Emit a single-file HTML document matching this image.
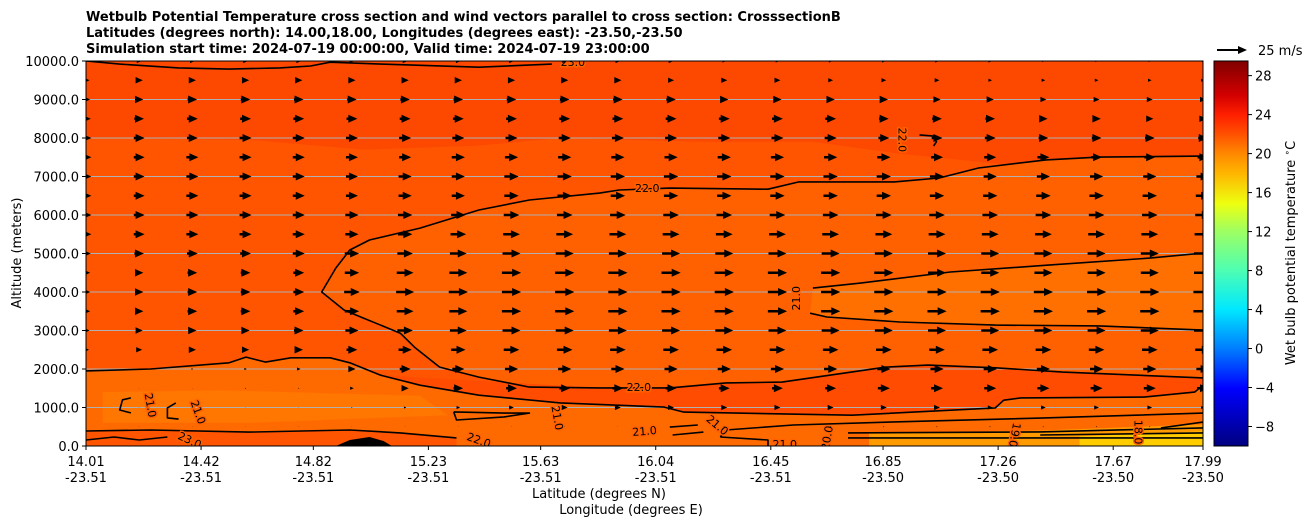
<!DOCTYPE html>
<html><head><meta charset="utf-8"><style>
html,body{margin:0;padding:0;background:#fff;}
svg{display:block;font-family:"DejaVu Sans","Liberation Sans",sans-serif;}
</style></head><body>
<svg id="chart" width="1311" height="526" viewBox="0 0 1311 526" xmlns="http://www.w3.org/2000/svg">
<defs>
<clipPath id="plotClip"><rect x="86" y="61" width="1117" height="385"/></clipPath>
<linearGradient id="cmap" x1="0" y1="0" x2="0" y2="1">
<stop offset="0" stop-color="#800000"/><stop offset="0.09" stop-color="#d40000"/>
<stop offset="0.14" stop-color="#ff2000"/><stop offset="0.19" stop-color="#ff5000"/>
<stop offset="0.24" stop-color="#ff8800"/><stop offset="0.29" stop-color="#ffb400"/>
<stop offset="0.37" stop-color="#eeff10"/><stop offset="0.44" stop-color="#a0ff60"/>
<stop offset="0.54" stop-color="#50ffb0"/><stop offset="0.645" stop-color="#00e8ff"/>
<stop offset="0.745" stop-color="#0080ff"/><stop offset="0.85" stop-color="#0000ff"/>
<stop offset="1" stop-color="#000080"/>
</linearGradient>
</defs>
<g font-weight="bold" font-size="13" fill="#000">
<text x="86" y="21">Wetbulb Potential Temperature cross section and wind vectors parallel to cross section: CrosssectionB</text>
<text x="86" y="37">Latitudes (degrees north): 14.00,18.00, Longitudes (degrees east): -23.50,-23.50</text>
<text x="86" y="53">Simulation start time: 2024-07-19 00:00:00, Valid time: 2024-07-19 23:00:00</text>
</g>
<g id="plot" clip-path="url(#plotClip)"></g>
<rect x="86" y="61" width="1117" height="385" fill="none" stroke="#000" stroke-width="1"/>
<g id="axes"></g>
<text font-size="13" text-anchor="middle" transform="translate(21,253) rotate(-90)">Altitude (meters)</text>
<text font-size="13" text-anchor="middle" x="599" y="498">Latitude (degrees N)</text>
<text font-size="13" text-anchor="middle" x="631" y="514">Longitude (degrees E)</text>
<rect x="1214" y="61" width="34" height="385" fill="url(#cmap)" stroke="#000" stroke-width="1"/>
<g id="cbar"></g>
<text font-size="13" text-anchor="middle" transform="translate(1295,253) rotate(-90)">Wet bulb potential temperature <tspan font-size="9" dy="-5">∘</tspan><tspan dy="5">C</tspan></text>
<g>
<polygon points="1217,49 1238,49 1238,46 1247,50 1238,54 1238,51 1217,51" fill="#000"/>
<text x="1258" y="55" font-size="13">25 m/s</text>
</g>
<script>
const latMin = 14.01, latMax = 17.99, altMax = 10000;
const latTicks = [14.01,14.42,14.82,15.23,15.63,16.04,16.45,16.85,17.26,17.67,17.99];
const lonTickLabels = ["-23.51","-23.51","-23.51","-23.51","-23.51","-23.51","-23.51","-23.50","-23.50","-23.50","-23.50"];
const altTicks = [0,1000,2000,3000,4000,5000,6000,7000,8000,9000,10000];
const cbarTicks = [-8,-4,0,4,8,12,16,20,24,28];
const cbarMin = -10, cbarMax = 29.5;
const windAlts = [0,500,1000,1500,2000,2500,3000,3500,4000,4500,5000,5500,6000,6500,7000,7500,8000,8500,9000,9500,10000];
const windU = [
[0,0,0,0,0,0,0,0,0,0,0,0,0,0,0,0,0,0,0,0,0,0],
[0.5,0.5,0.5,0.5,0.5,0.5,0.5,0.5,0.5,0.5,0.5,1,1,1,1,1,1,1,1,1,1,1],
[0.5,0.5,0.5,0.5,0.5,1,2,3,4,5,5,5,5,5,5,5,5,4,4,4,4,3],
[0.5,0.5,0.5,1,1,3,6,8,9,9,9,9,9,9,9,10,10,10,10,10,10,10],
[1,1,1.5,2,3,6,9,10,11,11,11,11,11,11,11,11,11,11,11,11,11,11],
[5,5,6,6,7,9,11,12,13,13,13,13,13,13,13,13,13,13,13,13,13,13],
[6,6,7,7,8,11,13,14,15,15,15,15,15,15,15,15,15,15,15,15,15,15],
[7,7,8,8,9,12,14,15,16,16,16,16,16,16,16,16,16,16,16,16,16,16],
[7,7,8,8,9,13,15,16,16,16,16,16,16,16,16,16,16,16,16,16,16,16],
[7,7,8,8,9,12,14,15,16,16,16,16,16,16,16,16,15,15,15,15,15,15],
[8,8,9,9,10,12,13,14,15,15,15,15,15,15,15,15,15,15,15,15,15,15],
[9,9,10,10,10,11,12,13,14,14,14,14,14,14,14,14,14,14,14,14,14,14],
[9,9,10,10,10,11,12,12,13,13,13,13,13,13,13,13,13,13,13,13,13,13],
[9,9,10,10,10,10,11,11,12,12,12,12,12,12,12,12,12,12,12,12,12,12],
[9,9,10,10,10,10,11,11,12,12,12,12,12,12,12,12,12,11,11,11,11,11],
[9,9,10,10,10,10,10,11,11,11,11,11,11,11,11,11,10,10,10,9,9,9],
[9,9,9,10,10,10,10,10,10,10,10,10,10,10,10,9,9,9,8,8,8,8],
[8,8,9,9,9,9,9,9,9,9,9,9,9,9,9,8,8,8,7,7,6,6],
[7,7,8,8,8,8,8,8,8,8,8,8,7,7,7,7,6,6,5,5,5,5],
[6,6,6,6,6,6,6,6,6,6,6,5,5,5,4,4,4,3,3,3,3,3],
[4,4,4,4,4,4,4,4,4,4,4,4,3,3,3,3,3,3,2,2,2,2]
];
const fillTopDark = [[14.01,10000],[14.01,8000],[14.6,7950],[15.0,7700],[15.4,7800],[15.7,8000],[16.2,7900],[16.6,7900],[16.9,7600],[17.3,7300],[17.99,7400],[17.99,10000]];
const contour22Main = [[17.99,7530],[17.62,7505],[17.43,7430],[17.19,7220],[17.05,6960],[16.89,6860],[16.55,6860],[16.44,6670],[16.09,6700],[15.91,6650],[15.84,6570],[15.59,6390],[15.41,6130],[15.2,5660],[15.02,5350],[14.95,5090],[14.9,4620],[14.85,4000],[14.93,3530],[15.0,3320],[15.13,2930],[15.18,2570],[15.27,2050],[15.41,1790],[15.59,1530],[15.84,1510],[16.09,1510],[16.29,1640],[16.49,1660],[16.86,2050],[17.01,2100],[17.25,2030],[17.49,1920],[17.99,1770]];
const contour22Low = [[14.01,1950],[14.24,2000],[14.52,2160],[14.58,2310],[14.65,2180],[14.74,2290],[14.88,2290],[14.95,2160],[15.06,1840],[15.2,1580],[15.41,1320],[15.7,1120],[16.07,1010],[16.14,880],[16.74,800],[17.25,990],[17.28,1190],[17.34,1250],[17.78,1270],[17.96,1400],[17.99,1580]];
const contour23Top = [[14.01,10000],[14.13,9920],[14.34,9820],[14.52,9790],[14.7,9820],[14.81,9870],[14.88,9970],[15.06,9920],[15.41,9840],[15.67,9920]];
const contour21Upper = [[16.6,4100],[16.77,4230],[17.09,4520],[17.44,4700],[17.8,4880],[17.99,5010]];
const contour21Lower = [[16.59,3450],[16.65,3350],[16.91,3220],[17.25,3140],[17.62,3120],[17.99,3010]];
const contourBottomA = [[14.01,390],[14.24,415],[14.59,360],[14.95,415],[15.13,340],[15.33,210]];
const contourBottomB = [[14.01,155],[14.11,235],[14.2,155],[14.3,235]];
const contourRightA = [[16.27,235],[16.29,415],[16.53,545],[16.89,625],[17.41,725],[17.99,855]];
const contourRightB = [[16.27,235],[16.44,155],[16.44,0]];
const contourYellowA = [[16.725,340],[17.41,365],[17.99,470]];
const contourYellowB = [[16.725,210],[17.99,210]];
const contourYellowC = [[17.41,285],[17.99,340]];
const contourYellowD = [[17.84,470],[17.99,620]];
const contourLoop = [[15.32,885],[15.33,675],[15.5,755],[15.59,855],[15.5,855],[15.32,885]];
const contourSmallA = [[16.09,490],[16.19,545]];
const contourSmallB = [[16.1,285],[16.21,360]];
const contourHook = [[16.98,8080],[17.03,8050],[17.04,7900],[17.03,7790]];
const contourCLeft = [[14.17,1250],[14.14,1200],[14.13,935],[14.17,860]];
const contourCRight = [[14.33,1120],[14.3,990],[14.3,730],[14.34,700]];
const terrain = [[14.9,0],[14.95,155],[15.02,235],[15.07,130],[15.1,0]];
const fillLightLeft = [[14.07,600],[14.07,1400],[14.5,1450],[15.2,1300],[15.3,800],[14.6,600]];
const fillOrange = [[16.8,0],[16.8,330],[17.4,400],[17.99,560],[17.99,0]];
const fillYellow = [[17.55,0],[17.55,250],[17.99,380],[17.99,0]];
const labelTexts = ["23.0","22.0","22.0","21.0","22.0","21.0","21.0","23.0","22.0","21.0","21.0","21.0","21.0","20.0","19.0","18.0"];
const labelLats = [15.745,16.01,16.92,16.54,15.98,14.24,14.41,14.38,15.41,15.69,16.0,16.26,16.5,16.65,17.32,17.76];
const labelAlts = [9970,6700,7950,3840,1530,1060,880,155,155,730,390,545,50,210,285,360];
const labelRots = [0,0,90,-90,0,80,70,25,20,80,-5,40,0,-80,100,90];

const NS = "http://www.w3.org/2000/svg";
const X = lat => 86 + (lat - latMin) / (latMax - latMin) * 1117;
const Y = alt => 446 - alt / altMax * 385;
const CY = v => 61 + (cbarMax - v) / (cbarMax - cbarMin) * 385;
const plot = document.getElementById('plot');
const axes = document.getElementById('axes');
const cbar = document.getElementById('cbar');
function mk(tag, attrs, parent) {
  const e = document.createElementNS(NS, tag);
  for (const k in attrs) e.setAttribute(k, attrs[k]);
  parent.appendChild(e);
  return e;
}
const pts = arr => arr.map(p => X(p[0]).toFixed(1) + ',' + Y(p[1]).toFixed(1)).join(' ');

let bg = mk('rect', {x:86, y:61, width:1117, height:385, fill:'#ff5400'}, plot);


function fillPoly(arr, color, name) {
  const p = mk('polygon', {points: pts(arr), fill: color}, plot);
  
  
}
fillPoly(fillTopDark, '#fd4800', 'fill-upper-warm');
fillPoly(contour22Main.concat([[17.99,1770]]), '#ff6000', 'fill-inside-22');
fillPoly(contour22Main.slice(25).concat(contour22Low.slice(8).reverse()), '#ff4c00', 'fill-band-22');
fillPoly(contour21Upper.concat(contour21Lower.slice().reverse()), '#ff7000', 'fill-inside-21');
fillPoly(contour22Low.concat([[17.99,0],[14.01,0]]), '#ff6a00', 'fill-lower');
fillPoly(fillLightLeft, '#ff7600', 'fill-lower-left-light');
fillPoly(contourBottomA.concat([[15.33,0],[14.01,0]]), '#ff5400', 'fill-bottom-left');
fillPoly(fillOrange, '#ff9a00', 'fill-bottom-right-orange');
fillPoly(fillYellow, '#ffcc00', 'fill-bottom-right-yellow');

altTicks.forEach(a => {
  if (a === 0 || a === altMax) return;
  const g = mk('line', {x1:86, x2:1203, y1:Y(a), y2:Y(a), stroke:'#b0b0b0', 'stroke-width':1}, plot);
  
  
});

function line(arr, name) {
  const l = mk('polyline', {points: pts(arr), fill:'none', stroke:'#000', 'stroke-width':1.6, 'stroke-linejoin':'round'}, plot);
  
  
}
line(contour22Main, 'contour-22-main');
line(contour22Low, 'contour-22-low');
line(contour23Top, 'contour-23-top');
line(contour21Upper, 'contour-21-upper');
line(contour21Lower, 'contour-21-lower');
line(contourBottomA, 'contour-bottom-a');
line(contourBottomB, 'contour-bottom-b');
line(contourRightA, 'contour-right-a');
line(contourRightB, 'contour-right-b');
line(contourYellowA, 'contour-yellow-a');
line(contourYellowB, 'contour-yellow-b');
line(contourYellowC, 'contour-yellow-c');
line(contourYellowD, 'contour-yellow-d');
line(contourLoop, 'contour-loop');
line(contourSmallA, 'contour-small-a');
line(contourSmallB, 'contour-small-b');
line(contourHook, 'contour-hook');
line(contourCLeft, 'contour-c-left');
line(contourCRight, 'contour-c-right');
const t = mk('polygon', {points: pts(terrain), fill:'#000'}, plot);



labelTexts.forEach((s, i) => {
  const x = X(labelLats[i]), y = Y(labelAlts[i]);
  const tx = mk('text', {x:0, y:4, 'font-size':11, 'text-anchor':'middle', fill:'#000',
    stroke:'#ff6000', 'stroke-width':3, 'paint-order':'stroke',
    transform:`translate(${x.toFixed(1)},${y.toFixed(1)}) rotate(${labelRots[i]})`}, plot);
  tx.textContent = s;
  
  
});

const pxPerMs = 30 / 25;
windAlts.forEach((a, r) => {
  windU[r].forEach((u, c) => {
    const cx = 86 + c * 1117 / 21, cy = Y(a);
    const L = u * pxPerMs;
    if (L <= 0) return;
    const hl = Math.min(9, L), s = hl / 9, hw = 4 * s, sw = 1.2 * s;
    const x0 = cx - L / 2, x1 = cx + L / 2, xh = x1 - hl;
    const p = `${x0},${cy-sw} ${xh},${cy-sw} ${xh},${cy-hw} ${x1},${cy} ${xh},${cy+hw} ${xh},${cy+sw} ${x0},${cy+sw}`;
    const ar = mk('polygon', {points:p, fill:'#000'}, plot);
    
    
  });
});

altTicks.forEach(a => {
  mk('line', {x1:82, x2:86, y1:Y(a), y2:Y(a), stroke:'#000'}, axes);
  const tx = mk('text', {x:79, y:Y(a)+5, 'font-size':13, 'text-anchor':'end'}, axes);
  tx.textContent = a.toFixed(1);
  
  
});
latTicks.forEach((lat, i) => {
  const x = X(lat);
  mk('line', {x1:x, x2:x, y1:446, y2:450, stroke:'#000'}, axes);
  const t1 = mk('text', {x:x, y:466, 'font-size':13, 'text-anchor':'middle'}, axes);
  t1.textContent = lat.toFixed(2);
  
  
  const t2 = mk('text', {x:x, y:482, 'font-size':13, 'text-anchor':'middle'}, axes);
  t2.textContent = lonTickLabels[i];
  
  
});
cbarTicks.forEach(v => {
  const y = CY(v);
  mk('line', {x1:1248, x2:1252, y1:y, y2:y, stroke:'#000'}, cbar);
  const tx = mk('text', {x:1255, y:y+5, 'font-size':13}, cbar);
  tx.textContent = v < 0 ? '\u2212' + Math.abs(v) : String(v);
  
  
});
</script>
</svg>
</body></html>
